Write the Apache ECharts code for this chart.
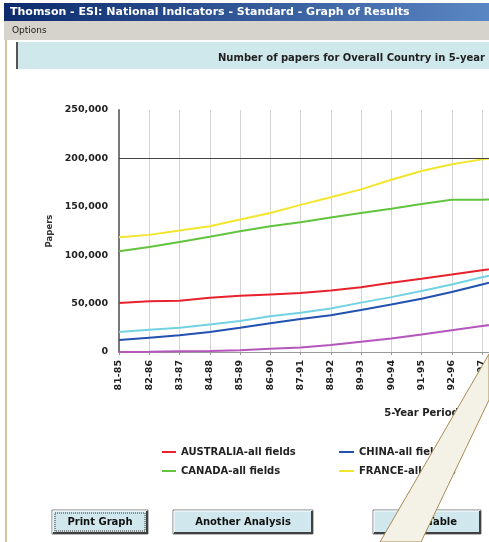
<!DOCTYPE html>
<html>
<head>
<meta charset="utf-8">
<title>Graph of Results</title>
<script src="https://cdn.jsdelivr.net/npm/echarts@6/dist/echarts.min.js"></script>
<style>
  html, body { margin: 0; padding: 0; background: #fff; }
  #main { width: 489px; height: 542px; }
</style>
</head>
<body>
<div id="main"></div>
<script>
// 5-year periods (the plot runs past the right edge of the window)
var periods = ['81-85', '82-86', '83-87', '84-88', '85-89', '86-90', '87-91', '88-92', '89-93', '90-94', '91-95',
    '92-96', '93-97', '94-98', '95-99', '96-00', '97-01', '98-02', '99-03', '00-04', '01-05'];

// number of papers
var australia = [50500, 52500, 53000, 56000, 58000, 59500, 61000, 63600, 67000, 71500, 75600, 80000, 84500, 89000];
var china = [12400, 14800, 17200, 20600, 25000, 29600, 34000, 38000, 43300, 49000, 55000, 61900, 69800, 77000];
var canada = [104000, 108500, 113700, 119000, 124700, 130000, 134000, 139000, 143600, 148000, 153000, 157400, 157400, 158000];
var france = [118500, 121000, 125500, 130000, 136800, 143600, 152000, 159800, 168000, 178000, 187000, 194000, 199000, 203000];
var cyanSeries = [20600, 23000, 25000, 28500, 32000, 37000, 40500, 45000, 51000, 56700, 63000, 69800, 77300, 84000];
var magentaSeries = [0, 300, 700, 1000, 1700, 3400, 4600, 7200, 10600, 14000, 18000, 22400, 26800, 31000];

var yTicks = [0, 50000, 100000, 150000, 200000, 250000];

var uiFont = 'DejaVu Sans';

function lineSeries(name, data, color) {
    return {
        name: name,
        type: 'line',
        data: data,
        symbol: 'none',
        lineStyle: { color: color, width: 2 },
        itemStyle: { color: color },
        silent: true
    };
}

function button(x, y, w, h, label, focused) {
    var els = [
        { type: 'rect', shape: { x: x, y: y, width: w, height: h },
          style: { fill: '#cfe7ed', stroke: '#7a7a7a', lineWidth: 1 } },
        { type: 'polyline', shape: { points: [[x + 1, y + h - 1], [x + 1, y + 1], [x + w - 1, y + 1]] },
          style: { stroke: '#ffffff', lineWidth: 1, fill: null } },
        { type: 'polyline', shape: { points: [[x + 1, y + h - 1], [x + w - 1, y + h - 1], [x + w - 1, y + 1]] },
          style: { stroke: '#404040', lineWidth: 2, fill: null } },
        { type: 'text', x: x + w / 2, y: y + h / 2,
          style: { text: label, fill: '#111', font: 'bold 10px ' + uiFont, align: 'center', verticalAlign: 'middle' } }
    ];
    if (focused) {
        els.push({ type: 'rect', shape: { x: x + 3, y: y + 3, width: w - 6, height: h - 6 },
            style: { fill: null, stroke: '#333', lineWidth: 1, lineDash: [1, 1] } });
    }
    return els;
}

var chart = echarts.init(document.getElementById('main'));

var graphics = [
    // window title bar
    { type: 'rect', shape: { x: 4, y: 3, width: 490, height: 18 },
      style: { fill: new echarts.graphic.LinearGradient(0, 0, 1, 0, [
          { offset: 0, color: '#0c2a6c' }, { offset: 1, color: '#5b88c4' }]) } },
    { type: 'text', x: 10, y: 12,
      style: { text: 'Thomson - ESI: National Indicators - Standard - Graph of Results',
               fill: '#fff', font: 'bold 11px ' + uiFont, verticalAlign: 'middle' } },
    // menu bar
    { type: 'rect', shape: { x: 4, y: 21, width: 490, height: 19 }, style: { fill: '#d6d3cc' } },
    { type: 'text', x: 12, y: 31,
      style: { text: 'Options', fill: '#222', font: '9px ' + uiFont, verticalAlign: 'middle' } },
    // left window frame
    { type: 'line', shape: { x1: 6, y1: 40, x2: 6, y2: 542 }, style: { stroke: '#cdb27a', lineWidth: 1.5 } },
    // header band
    { type: 'rect', shape: { x: 16, y: 42, width: 480, height: 27 }, style: { fill: '#cfe8ec' } },
    { type: 'line', shape: { x1: 17, y1: 42, x2: 17, y2: 69 }, style: { stroke: '#555', lineWidth: 2 } },
    { type: 'text', x: 218, y: 58,
      style: { text: 'Number of papers for Overall Country in 5-year periods, 1981-2005',
               fill: '#222', font: 'bold 10px ' + uiFont, verticalAlign: 'middle' } }
];

graphics = graphics.concat(button(52, 510, 96, 24, 'Print Graph', true));
graphics = graphics.concat(button(173, 510, 140, 24, 'Another Analysis', false));
graphics = graphics.concat(button(373, 510, 108, 24, 'View Table', false));

// callout pointer lying over the window
graphics.push({
    type: 'polygon', z: 100,
    shape: { points: [[380, 542], [489, 354], [489, 400], [421, 542]] },
    style: { fill: '#f4f1e7', stroke: '#a88c52', lineWidth: 1 }
});

var legendText = { fontFamily: uiFont, fontSize: 10, fontWeight: 'bold', color: '#222' };

var option = {
    animation: false,
    backgroundColor: '#ffffff',
    textStyle: { fontFamily: uiFont },
    grid: { left: 119, top: 110, width: 605, height: 242, containLabel: false, outerBoundsMode: 'none' },
    legend: [{
        left: 162, top: 447, orient: 'vertical', itemGap: 9, padding: 0,
        icon: 'rect', itemWidth: 14, itemHeight: 2,
        data: ['AUSTRALIA-all fields', 'CANADA-all fields'],
        textStyle: legendText, selectedMode: false
    }, {
        left: 339, top: 447, orient: 'vertical', itemGap: 9, padding: 0,
        icon: 'rect', itemWidth: 15, itemHeight: 2,
        data: ['CHINA-all fields', 'FRANCE-all fields'],
        textStyle: legendText, selectedMode: false
    }],
    xAxis: {
        type: 'category',
        data: periods,
        boundaryGap: false,
        name: '5-Year Period',
        nameLocation: 'middle',
        nameGap: 56,
        nameTextStyle: { fontFamily: uiFont, fontSize: 10, fontWeight: 'bold', color: '#222' },
        axisLine: { lineStyle: { color: '#9a9a9a', width: 1 } },
        axisTick: { show: true, length: 3, lineStyle: { color: '#999' } },
        axisLabel: { rotate: 90, interval: 0, margin: 8, fontSize: 9.5, fontWeight: 'bold', color: '#222' },
        splitLine: { show: true, interval: 0, lineStyle: { color: '#d4d4d4', width: 1 } }
    },
    yAxis: {
        type: 'value',
        min: yTicks[0],
        max: yTicks[yTicks.length - 1],
        interval: yTicks[1] - yTicks[0],
        name: 'Papers',
        nameLocation: 'middle',
        nameGap: 64,
        nameRotate: 90,
        nameTextStyle: { fontFamily: uiFont, fontSize: 8.5, fontWeight: 'bold', color: '#333' },
        axisLine: { show: true, lineStyle: { color: '#777', width: 2 } },
        axisTick: { show: false },
        axisLabel: {
            margin: 11, fontSize: 9.5, fontWeight: 'bold', color: '#222',
            formatter: function (v) { return v.toLocaleString('en-US'); }
        },
        splitLine: { show: false }
    },
    graphic: graphics,
    series: [
        lineSeries('SOUTH KOREA-all fields', magentaSeries, '#b456bc'),
        lineSeries('CHINA-all fields', china, '#2251b0'),
        lineSeries('INDIA-all fields', cyanSeries, '#72d2e2'),
        lineSeries('AUSTRALIA-all fields', australia, '#e8222c'),
        lineSeries('CANADA-all fields', canada, '#62c43e'),
        Object.assign(lineSeries('FRANCE-all fields', france, '#f2e62c'), {
            markLine: {
                silent: true,
                symbol: 'none',
                label: { show: false },
                lineStyle: { color: '#444', width: 1, type: 'solid' },
                data: [{ yAxis: 200000 }]
            }
        })
    ]
};

chart.setOption(option);
</script>
</body>
</html>
